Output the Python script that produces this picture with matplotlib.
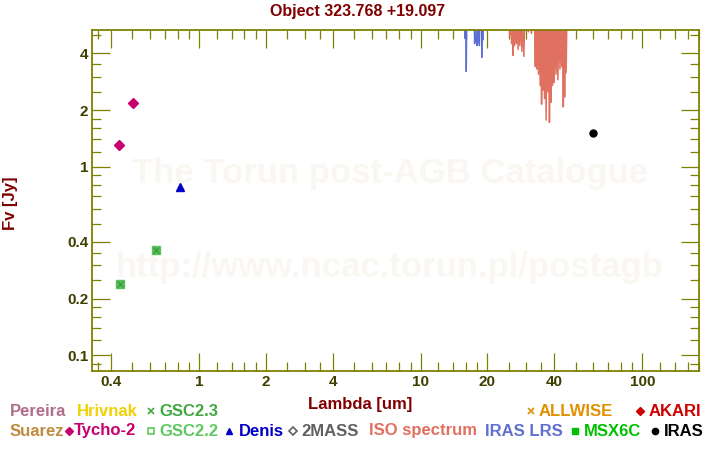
import matplotlib
matplotlib.use("Agg")
import matplotlib.pyplot as plt
from matplotlib.ticker import FixedLocator, FixedFormatter, NullFormatter

plt.rcParams['font.family'] = ['Liberation Sans', 'DejaVu Sans']
plt.rcParams['font.weight'] = 'bold'

# ---------------- data ----------------
tycho_wl = [0.435, 0.503]
tycho_fx = [1.30, 2.17]
denis_wl = [0.818]
denis_fx = [0.777]
gsc22_wl = [0.440, 0.640]
gsc22_fx = [0.240, 0.360]
gsc23_wl = [0.440, 0.640]
gsc23_fx = [0.240, 0.360]
iras_wl = [60.0]
iras_fx = [1.51]

lrs_wl = [15.75, 15.85, 15.95, 16.05, 16.15, 17.4, 17.5, 17.6, 17.75, 17.85,
          17.95, 18.05, 18.25, 18.4, 18.5, 18.8, 18.85, 18.95, 19.05, 19.15]
lrs_fx = [6.5, 4.8, 6.5, 3.2, 6.5, 6.5, 4.5, 6.5, 4.6, 5.0,
          4.4, 6.5, 4.75, 4.4, 6.5, 6.5, 3.8, 6.5, 4.7, 6.5]

iso_wl = [25.0, 25.2, 25.4, 25.7, 25.9, 26.1, 26.3, 26.5, 26.8, 27.0,
          27.3, 27.5, 27.8, 28.0, 28.3, 28.6, 28.9, 29.2, 29.5, 30.0,
          30.6, 31.0, 31.6, 32.0, 32.6, 32.9, 33.1, 33.4, 33.7, 34.0,
          34.3, 34.6, 34.9, 35.1, 35.3, 35.6, 35.9, 36.2, 36.5, 36.8,
          37.1, 37.5, 37.8, 38.1, 38.4, 38.7, 39.0, 39.3, 39.6, 40.0,
          40.4, 40.8, 41.2, 41.6, 42.0, 42.5, 42.9, 43.3, 43.7, 44.0,
          44.3, 44.6, 44.9, 45.3, 45.7]
iso_fx = [6.5, 5.0, 6.5, 4.5, 6.5, 3.9, 6.0, 4.4, 6.5, 4.5,
          6.5, 4.2, 6.5, 4.4, 6.5, 4.1, 6.5, 3.85, 6.5, 6.5,
          5.2, 6.5, 5.1, 6.5, 6.5, 3.4, 6.5, 3.3, 6.5, 3.1,
          6.5, 2.7, 6.5, 2.15, 6.5, 2.55, 6.5, 2.3, 6.5, 1.77,
          6.5, 2.5, 6.5, 1.72, 6.5, 2.2, 6.5, 2.7, 6.5, 2.8,
          6.5, 3.1, 6.5, 2.9, 6.5, 3.3, 6.5, 3.4, 6.5, 2.08,
          6.5, 2.35, 6.5, 3.15, 6.5]

x_major = [0.4, 1, 2, 4, 10, 20, 40, 100]
x_major_labels = ['0.4', '1', '2', '4', '10', '20', '40', '100']
y_major = [0.1, 0.2, 0.4, 1, 2, 4]
y_major_labels = ['0.1', '0.2', '0.4', '1', '2', '4']
sub = [1.2, 1.4, 1.6, 1.8, 2.5, 3, 3.5, 5, 6, 7, 8, 9]
decades = [0.01, 0.1, 1, 10, 100]
minor = [d * s for d in decades for s in sub]

# ---------------- figure ----------------
W, H = 720, 450
fig = plt.figure(figsize=(7.2, 4.5), dpi=100)
L, R, T, B = 92.5, 699.3, 30.0, 371.2
ax = fig.add_axes([L / W, 1 - B / H, (R - L) / W, (B - T) / H])
ax.set_xscale('log')
ax.set_yscale('log')
ax.set_xlim(0.330, 180.8)
ax.set_ylim(0.0823, 5.32)

olive = '#808000'
for s in ax.spines.values():
    s.set_color(olive)
    s.set_linewidth(1.3)

ax.xaxis.set_major_locator(FixedLocator(x_major))
ax.xaxis.set_major_formatter(FixedFormatter(x_major_labels))
ax.yaxis.set_major_locator(FixedLocator(y_major))
ax.yaxis.set_major_formatter(FixedFormatter(y_major_labels))
ax.xaxis.set_minor_locator(FixedLocator(minor))
ax.yaxis.set_minor_locator(FixedLocator(minor))
ax.xaxis.set_minor_formatter(NullFormatter())
ax.yaxis.set_minor_formatter(NullFormatter())
ax.tick_params(which='both', direction='in', top=True, right=True,
               color=olive, width=0.9, labelcolor='#3f3f00', labelsize=11)
ax.tick_params(which='major', length=13)
ax.tick_params(which='minor', length=6.5)
ax.tick_params(axis='x', pad=3)
ax.tick_params(axis='y', pad=3)
for lab in ax.get_xticklabels() + ax.get_yticklabels():
    lab.set_fontweight('bold')

# watermark
wm = '#faf7f2'
ax.text(0.49, 0.58, 'The Torun post-AGB Catalogue', transform=ax.transAxes,
        ha='center', va='center', fontsize=25, color=wm, fontweight='bold', zorder=0)
ax.text(0.49, 0.305, 'http://www.ncac.torun.pl/postagb', transform=ax.transAxes,
        ha='center', va='center', fontsize=25, color=wm, fontweight='bold', zorder=0)

# spectra
ax.plot(lrs_wl, lrs_fx, color='#5a6ed6', lw=1.0, zorder=2)
ax.plot(iso_wl, iso_fx, color='#e07060', lw=1.1, zorder=2)

# photometry
ax.plot(gsc22_wl, gsc22_fx, ls='none', marker='s', ms=5.5, mfc='#5cc05c', mec='#5cc05c', zorder=3)
ax.plot(gsc23_wl, gsc23_fx, ls='none', marker='x', ms=4.5, mew=1.0, color='#3a9a3a', zorder=4)
ax.plot(tycho_wl, tycho_fx, ls='none', marker='D', ms=5, color='#c8006e', zorder=3)
ax.plot(denis_wl, denis_fx, ls='none', marker='^', ms=6, color='#0000c8', zorder=3)
ax.plot(iras_wl, iras_fx, ls='none', marker='o', ms=5, color='black', zorder=3)

# labels
dred = '#800000'
fig.text(0.497, 1 - 11.5 / H, 'Object 323.768 +19.097', ha='center', va='center',
         fontsize=11.5, color=dred, fontweight='bold')
fig.text(0.5, 1 - 404 / H, 'Lambda [um]', ha='center', va='center',
         fontsize=12, color=dred, fontweight='bold')
fig.text(10.5 / W, 1 - 203 / H, 'Fv [Jy]', ha='center', va='center', rotation=90,
         fontsize=12, color=dred, fontweight='bold')

# legend (manual, in pixel coordinates)
lg = fig.add_axes([0, 0, 1, 1], facecolor='none')
lg.set_xlim(0, W)
lg.set_ylim(H, 0)
lg.axis('off')
r1, r2 = 411, 431
fs = 12
items_text = [
    (10, r1, 'Pereira', '#b06e88'),
    (77, r1, 'Hrivnak', '#f0d000'),
    (159, r1, 'GSC2.3', '#40a840'),
    (539, r1, 'ALLWISE', '#e09000'),
    (649, r1, 'AKARI', '#d00000'),
    (10, r2, 'Suarez', '#c08a40'),
    (74, r2, 'Tycho-2', '#c8006e'),
    (159, r2, 'GSC2.2', '#60c860'),
    (239, r2, 'Denis', '#0000c8'),
    (301, r2, '2MASS', '#606060'),
    (369, r2, 'ISO spectrum', '#e07060'),
    (485, r2, 'IRAS LRS', '#6070d0'),
    (584, r2, 'MSX6C', '#00c000'),
    (664, r2, 'IRAS', '#000000'),
]
for x, y, t, c in items_text:
    lg.text(x, y, t, ha='left', va='center', fontsize=fs, color=c, fontweight='bold')

items_mark = [
    (151, r1, 'x', '#40a840', True),
    (531, r1, 'x', '#e09000', True),
    (640, r1, 'D', '#d00000', True),
    (69, r2, 'D', '#c8006e', True),
    (151, r2, 's', '#60c860', False),
    (229, r2, '^', '#0000c8', True),
    (293, r2, 'D', '#606060', False),
    (575, r2, 's', '#00c000', True),
    (655, r2, 'o', '#000000', True),
]
for x, y, m, c, filled in items_mark:
    lg.plot([x], [y], marker=m, ls='none', ms=4.5, color=c,
            mfc=c if filled else 'none', mec=c, mew=1.2 if m == 'x' or not filled else 1)

fig.savefig('out.png', dpi=100)
